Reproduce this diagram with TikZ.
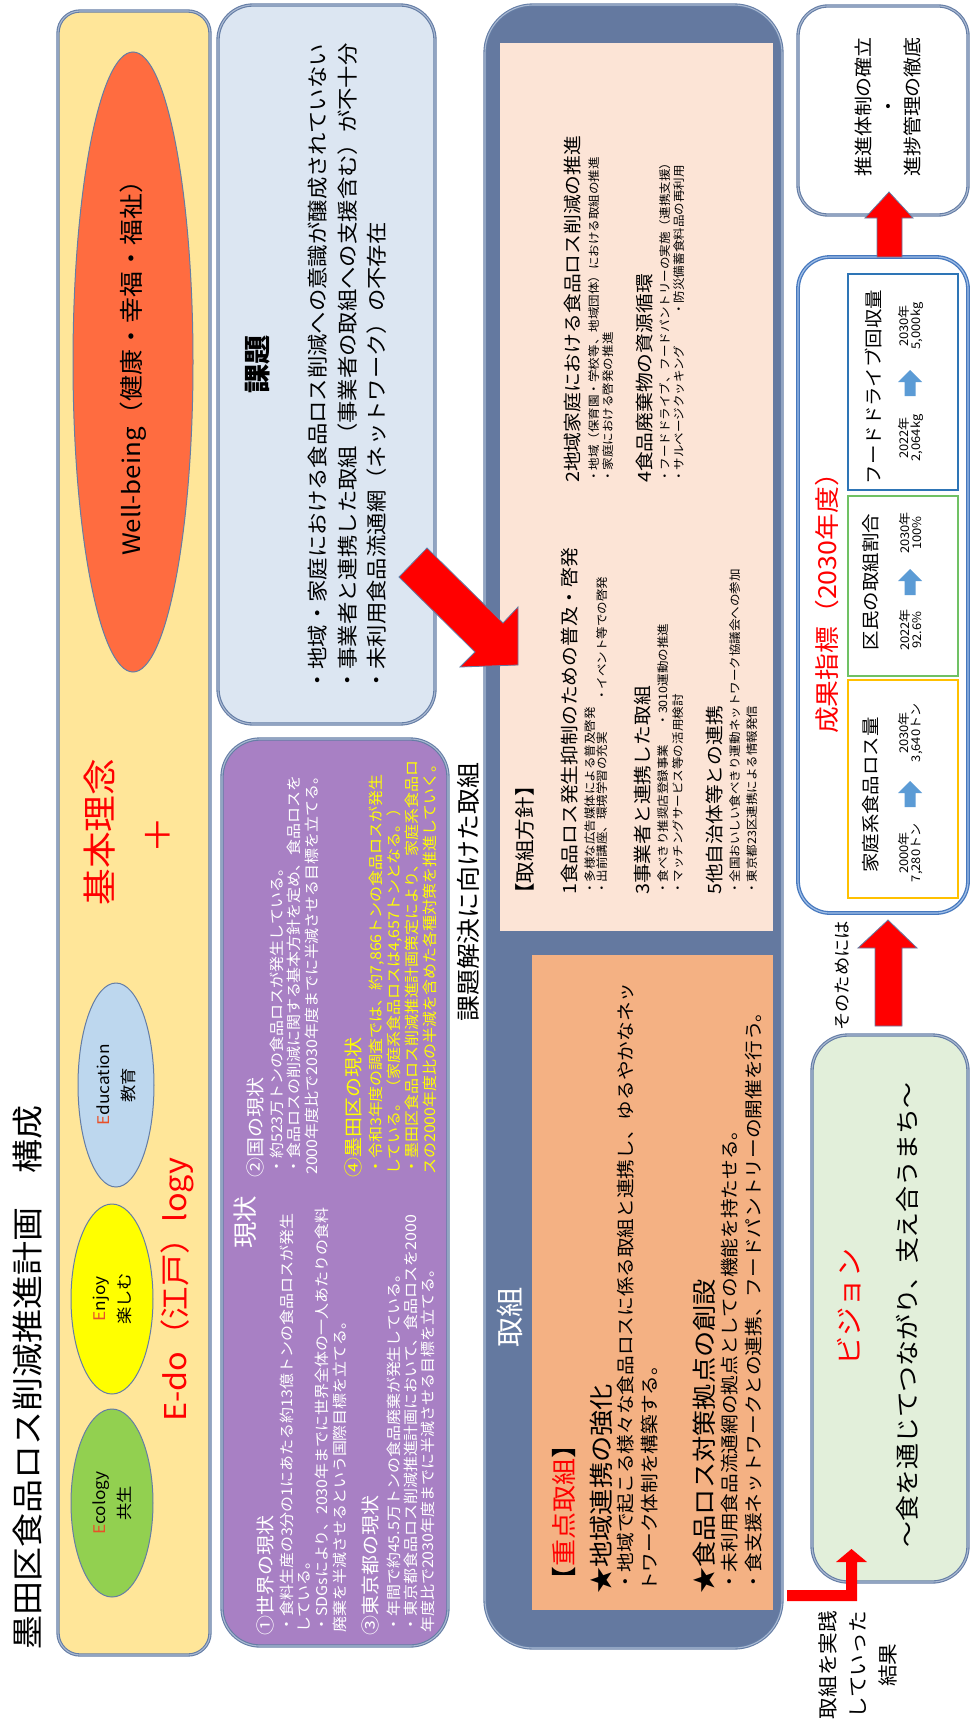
\documentclass[tikz,border=0pt]{standalone}
\usepackage{fontspec}
\setmainfont{Noto Sans CJK JP}[FakeStretch=1.08]
\usetikzlibrary{shapes.geometric}
\definecolor{bgray}{RGB}{100,125,165}
\definecolor{bgrayl}{RGB}{170,185,210}
\definecolor{yel}{RGB}{255,230,153}
\definecolor{wbcol}{RGB}{255,108,64}
\definecolor{kadaicol}{RGB}{220,230,242}
\definecolor{purp}{RGB}{168,128,196}
\definecolor{darkb}{RGB}{100,121,160}
\definecolor{peach}{RGB}{252,228,214}
\definecolor{orng}{RGB}{244,177,131}
\definecolor{visc}{RGB}{226,239,218}
\definecolor{ecog}{RGB}{146,208,80}
\definecolor{enjy}{RGB}{255,255,0}
\definecolor{educ}{RGB}{189,215,238}
\definecolor{eor}{RGB}{232,80,40}
\definecolor{ablue}{RGB}{91,155,213}
\definecolor{subor}{RGB}{255,192,0}
\definecolor{subgr}{RGB}{112,193,100}
\definecolor{subbl}{RGB}{46,117,182}
\definecolor{seikab}{RGB}{70,120,190}
\definecolor{seikal}{RGB}{160,190,230}
\definecolor{yelt}{RGB}{255,255,0}
\newcommand{\fsz}[2]{\fontsize{#1}{#2}\selectfont}
\newcommand{\uparr}[2]{\fill[ablue] (#1,#2) -- (#1+12,#2+12) -- (#1+5.5,#2+12) -- (#1+5.5,#2+26) -- (#1-5.5,#2+26) -- (#1-5.5,#2+12) -- (#1-12,#2+12) -- cycle;}
\begin{document}
\begin{tikzpicture}[x=1pt,y=-1pt,
  rt/.style={rotate=90,inner sep=0pt,align=left,anchor=west},
  rc/.style={rotate=90,inner sep=0pt,align=center,anchor=center},
  box/.style={draw=bgray,line width=1.1pt,double=bgrayl,double distance=1.1pt,inner sep=0pt,outer sep=0pt},
  ell/.style={ellipse,draw=bgray,line width=1pt,rotate=90,inner sep=0pt,align=center},
  redarrow/.style={fill=red,draw=bgray,line width=0.8pt,line join=miter}]
\useasboundingbox[fill=white] (0,0) rectangle (971,1731);

% ---------- boxes ----------
\node[box,fill=yel,rounded corners=22pt,minimum width=152pt,minimum height=1644pt] (kihon) at (134,833) {};
\node[box,fill=kadaicol,rounded corners=35pt,minimum width=217pt,minimum height=719pt] (kadai) at (326.5,364.5) {};
\node[box,fill=purp,rounded corners=38pt,minimum width=226pt,minimum height=907pt] (genjobox) at (335,1192.5) {};
\node[box,fill=darkb,rounded corners=48pt,minimum width=297pt,minimum height=1643pt] (torikumi) at (633.5,826.5) {};
\node[fill=peach,inner sep=0pt,minimum width=273pt,minimum height=888pt] (hoshin) at (636.5,487) {};
\node[fill=orng,inner sep=0pt,minimum width=241pt,minimum height=655pt] (juten) at (652.5,1282.5) {};
\node[box,fill=white,rounded corners=30pt,minimum width=170pt,minimum height=209pt] (suishin) at (883,110.5) {};
\node[draw=seikab,line width=1.3pt,double=seikal,double distance=1.2pt,fill=white,rounded corners=32pt,inner sep=0pt,minimum width=170pt,minimum height=656pt] (seika) at (883,585) {};
\node[draw=subor,line width=1.5pt,inner sep=0pt,minimum width=110pt,minimum height=218pt] (sub1) at (903,789) {};
\node[draw=subgr,line width=1.5pt,inner sep=0pt,minimum width=110pt,minimum height=180pt] (sub2) at (903,586) {};
\node[draw=subbl,line width=1.5pt,inner sep=0pt,minimum width=110pt,minimum height=216pt] (sub3) at (903,382) {};
\node[box,fill=visc,rounded corners=36pt,minimum width=156pt,minimum height=547pt] (vision) at (890,1308.5) {};

% ---------- title ----------
\node[rt,font=\fsz{31.5}{34}] (title) at (28,1650) {墨田区食品ロス削減推進計画　構成};

% ---------- basic idea ----------
\node[ell,fill=wbcol,minimum width=620pt,minimum height=120pt,font=\fsz{24}{28}] (well) at (133,362) {Well-being（健康・幸福・福祉）};
\node[rc,font=\fsz{34}{38},text=red] (kihonh) at (100,832) {基本理念};
\node[rc,font=\fsz{34}{38},text=red] (plus) at (158,835) {＋};
\node[ell,fill=educ,minimum width=204pt,minimum height=76pt,font=\fsz{16}{25}] (edu) at (116,1085) {{\color{eor}E}ducation\\教育};
\node[ell,fill=enjy,minimum width=190pt,minimum height=82pt,font=\fsz{16}{25}] (enjoy) at (112,1299) {{\color{eor}E}njoy\\楽しむ};
\node[ell,fill=ecog,minimum width=188pt,minimum height=82pt,font=\fsz{16}{25}] (eco) at (112,1503) {{\color{eor}E}cology\\共生};
\node[rt,font=\fsz{30}{34},text=red] (edo) at (177,1422) {E-do（江戸）logy};

% ---------- kadai ----------
\node[rc,font=\bfseries\fsz{27}{30}] (kadaih) at (258,364) {課題};
\node[rt,font=\fsz{20.7}{29.5}] (kadait) at (347.5,692) {・地域・家庭における食品ロス削減への意識が醸成されていない\\・事業者と連携した取組（事業者の取組への支援含む）が不十分\\・未利用食品流通網（ネットワーク）の不存在};

% ---------- genjo ----------
\node[rc,font=\fsz{24.5}{28},text=white] (genjoh) at (245,1222) {現状};
\node[rt,font=\fsz{18.5}{22},text=white] (w1h) at (265,1636) {①世界の現状};
\node[rt,font=\fsz{14.8}{17.7},text=white] (w1b) at (313,1633) {・食料生産の3分の1にあたる約13億トンの食品ロスが発生\\している。\\・SDGsにより、2030年までに世界全体の一人あたりの食料\\廃棄を半減させるという国際目標を立てる。};
\node[rt,font=\fsz{18.5}{22},text=white] (w3h) at (370,1636) {③東京都の現状};
\node[rt,font=\fsz{14.8}{17}] (w3b) at (411.3,1633) {\color{white}・年間で約45.5万トンの食品廃棄が発生している。\\\color{white}・東京都食品ロス削減推進計画において、食品ロスを2000\\\color{white}年度比で2030年度までに半減させる目標を立てる。};
\node[rt,font=\fsz{18.5}{22},text=white] (w2h) at (255,1178) {②国の現状};
\node[rt,font=\fsz{14.8}{17.5}] (w2b) at (294,1175) {\color{white}・約523万トンの食品ロスが発生している。\\\color{white}・食品ロスの削減に関する基本方針を定め、食品ロスを\\\color{white}2000年度比で2030年度までに半減させる目標を立てる。};
\node[rt,font=\fsz{18.5}{22},text=yelt] (w4h) at (353,1178) {④墨田区の現状};
\node[rt,font=\fsz{14.8}{18}] (w4b) at (403,1175) {\color{yelt}・令和3年度の調査では、約7,866トンの食品ロスが発生\\\color{yelt}している。（家庭系食品ロスは4,657トンとなる。）\\\color{yelt}・墨田区食品ロス削減推進計画策定により、家庭系食品ロ\\\color{yelt}スの2000年度比の半減を含めた各種対策を推進していく。};

\node[rt,font=\fsz{24}{28}] (kaiketsu) at (468,1022) {課題解決に向けた取組};

% ---------- torikumi ----------
\node[rc,font=\fsz{28}{30},text=white] (torih) at (510,1317) {取組};
\node[rt,font=\fsz{20}{24}] (hoshinh) at (525,905) {【取組方針】};
\node[rt,font=\fsz{18.3}{22}] (h1) at (570,895) {1食品ロス発生抑制のための普及・啓発};
\node[rt,font=\fsz{11.6}{12}] (h1s) at (596,895) {・多様な広告媒体による普及啓発\\・出前講座、環境学習の充実\hspace{30pt}・イベント等での啓発};
\node[rt,font=\fsz{18.3}{22}] (h3) at (643,895) {3事業者と連携した取組};
\node[rt,font=\fsz{11.6}{15}] (h3s) at (670.5,895) {・食べきり推奨店登録事業\hspace{18pt}・3010運動の推進\\・マッチングサービス等の活用検討};
\node[rt,font=\fsz{18.3}{22}] (h5) at (715,895) {5他自治体等との連携};
\node[rt,font=\fsz{11.6}{17}] (h5s) at (743.5,895) {・全国おいしい食べきり運動ネットワーク協議会への参加\\・東京都23区連携による情報発信};
\node[rt,font=\fsz{18.3}{22}] (h2) at (573,483) {2地域家庭における食品ロス削減の推進};
\node[rt,font=\fsz{11.6}{14}] (h2s) at (601,483) {・地域（保育園・学校等、地域団体）における取組の推進\\・家庭における啓発の推進};
\node[rt,font=\fsz{18.3}{22}] (h4) at (645,483) {4食品廃棄物の資源循環};
\node[rt,font=\fsz{11.6}{14}] (h4s) at (672,483) {・フードドライブ、フードパントリーの実施（連携支援）\\・サルベージクッキング\hspace{30pt}・防災備蓄食料品の再利用};

\node[rt,font=\fsz{25}{28}] (jutenh) at (564,1594) {【{\color{red}重点取組}】};
\node[rt,font=\fsz{24.3}{28}] (j1) at (601,1594) {★地域連携の強化};
\node[rt,font=\fsz{18.2}{24}] (j1b) at (638,1592) {・地域で起こる様々な食品ロスに係る取組と連携し、ゆるやかなネッ\\トワーク体制を構築する。};
\node[rt,font=\fsz{24.3}{28}] (j2) at (704,1594) {★食品ロス対策拠点の創設};
\node[rt,font=\fsz{18.2}{24}] (j2b) at (742,1592) {・未利用食品流通網の拠点としての機能を持たせる。\\・食支援ネットワークとの連携、フードパントリーの開催を行う。};

% ---------- right column ----------
\node[rc,font=\fsz{18.5}{24.5}] (suishint) at (888,107) {推進体制の確立\\・\\進捗管理の徹底};
\node[rt,font=\fsz{24.8}{28},text=red] (seikah) at (827,734) {成果指標（2030年度）};
\node[rc,font=\fsz{18}{22}] (s1t) at (871,795) {家庭系食品ロス量};
\node[rc,font=\fsz{12}{12}] (s1a) at (911,853) {2000年\\7,280トン};
\node[rc,font=\fsz{12}{12}] (s1b) at (911,733) {2030年\\3,640トン};
\node[rc,font=\fsz{18}{22}] (s2t) at (871,582) {区民の取組割合};
\node[rc,font=\fsz{12}{12}] (s2a) at (911,630) {2022年\\92.6\%};
\node[rc,font=\fsz{12}{12}] (s2b) at (911,533) {2030年\\100\%};
\node[rc,font=\fsz{18}{22}] (s3t) at (873,387) {フードドライブ回収量};
\node[rc,font=\fsz{12}{12}] (s3a) at (911,438) {2022年\\2,064kg};
\node[rc,font=\fsz{12}{12}] (s3b) at (911,326) {2030年\\5,000kg};
\uparr{910}{781}
\uparr{910}{569}
\uparr{910}{370}

\node[rt,font=\fsz{17}{20}] (sonotame) at (842,1031) {そのためには};
\node[rc,font=\fsz{27}{30},text=red] (visionh) at (849,1307) {ビジョン};
\node[rc,font=\fsz{24}{28}] (visiont) at (907,1315) {～食を通じてつながり、支え合うまち～};
\node[rc,font=\fsz{20}{30}] (kekka) at (858,1665) {取組を実践\\していった\\結果};

% ---------- red arrows ----------
\draw[redarrow] (427,548) -- (503,623) -- (518,607) -- (518,665) -- (460,667) -- (475,652) -- (399,577) -- cycle;
\draw[redarrow] (877,257) -- (877,218) -- (865,218) -- (889,192) -- (913,218) -- (902,218) -- (902,257) -- cycle;
\draw[redarrow] (875,1026) -- (875,948) -- (858,948) -- (888,920) -- (917,948) -- (902,948) -- (902,1026) -- cycle;
\fill[red] (787,1590) -- (846,1590) -- (846,1562) -- (836,1562) -- (851.5,1549) -- (867,1562) -- (857,1562) -- (857,1601) -- (787,1601) -- cycle;
\end{tikzpicture}
\end{document}
